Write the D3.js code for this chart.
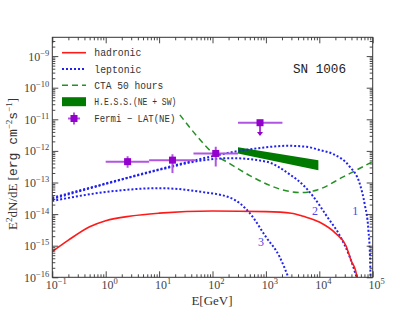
<!DOCTYPE html>
<html>
<head>
<meta charset="utf-8">
<script src="https://cdn.jsdelivr.net/npm/d3@7"></script>
<style>
  body { margin: 0; background: #fff; }
  svg { display: block; }
</style>
</head>
<body>
<svg id="chart"></svg>
<script>
// ---- data (E in GeV, E^2 dN/dE in erg cm^-2 s^-1) ----
const hadronicE = [0.1, 0.2, 0.5, 1, 3, 10, 100, 1000, 3000, 5000, 1e4, 2e4, 3.16e4, 4e4, 4.7e4, 5.1e4];
const hadronicF = [6.5e-16, 1.5e-15, 4.0e-15, 6.2e-15, 8.7e-15, 1.07e-14, 1.26e-14, 1.2e-14, 1.07e-14, 8.5e-15, 5.6e-15, 2.5e-15, 1.0e-15, 3.2e-16, 1.8e-16, 1e-16];

const lep1E = [0.1, 1, 10, 100, 316, 1000, 2500, 5800, 1e4, 1.8e4, 3.7e4, 5.7e4, 7.1e4, 8.3e4, 8.9e4, 9.1e4];
const lep1F = [3.3e-14, 9.3e-14, 2.6e-13, 6.8e-13, 1.0e-12, 1.3e-12, 1.45e-12, 1.35e-12, 1.07e-12, 8e-13, 3.2e-13, 9.3e-14, 2e-14, 3.2e-15, 4.5e-16, 1e-16];

const lep2E = [0.1, 1, 10, 68, 214, 1000, 2800, 5000, 7800, 1.4e4, 2.5e4, 3.7e4, 5e4];
const lep2F = [3.0e-14, 9.0e-14, 2.5e-13, 5.1e-13, 5.9e-13, 4.6e-13, 1.8e-13, 8.3e-14, 3.5e-14, 8.3e-15, 1.9e-15, 4.5e-16, 1e-16];

const lep3E = [0.1, 1, 10, 60, 224, 500, 1000, 1800, 2630];
const lep3F = [2.6e-14, 5.0e-14, 6.6e-14, 5.1e-14, 3.2e-14, 1.07e-14, 1.9e-15, 4.5e-16, 1e-16];

const ctaE = [24.5, 51, 102, 214, 500, 2090, 4400, 9100, 2.8e4, 1e5];
const ctaF = [1.38e-11, 2.95e-12, 8.5e-13, 3.9e-13, 1.66e-13, 5.8e-14, 4.8e-14, 5.8e-14, 1.5e-13, 4.6e-13];

const hessE = [300, 9600];
const hessHi = [1.3e-12, 5.1e-13];
const hessLo = [8.3e-13, 2.45e-13];

const fermiE = [2.57, 17.8, 115];
const fermiF = [4.57e-13, 5.1e-13, 8.3e-13];
const fermiElo = [1.0, 6.5, 44];
const fermiEhi = [6.5, 47, 300];
const fermiFlo = [2.95e-13, 2.0e-13, 3.2e-13];
const fermiFhi = [6.8e-13, 7.9e-13, 1.35e-12];

const ulE = 776, ulF = 7.8e-12, ulElo = 300, ulEhi = 2040, ulArrowTo = 3.2e-12;

const xDecades = [-1, 0, 1, 2, 3, 4, 5];
const yDecades = [-16, -15, -14, -13, -12, -11, -10, -9];

const curveLabels = [
  { text: "1", E: 4.7e4, F: 1.3e-14 },
  { text: "2", E: 8300, F: 1.3e-14 },
  { text: "3", E: 810, F: 1.35e-15 }
];

const legendItems = ["hadronic", "leptonic", "CTA 50 hours", "H.E.S.S.(NE + SW)", "Fermi − LAT(NE)"];

// ---- layout ----
const W = 415, H = 312;
const margin = { top: 37.3, right: 42.3, bottom: 34.7, left: 52.3 };
const iw = W - margin.left - margin.right;
const ih = H - margin.top - margin.bottom;

const svg = d3.select("#chart").attr("width", W).attr("height", H);
const g = svg.append("g").attr("transform", `translate(${margin.left},${margin.top})`);

const x = d3.scaleLog().domain([0.1, 1e5]).range([0, iw]);
const y = d3.scaleLog().domain([1e-16, Math.pow(10, -8.405)]).range([ih, 0]);

const plot = g.append("g");
plot.append("clipPath").attr("id", "clip")
  .append("rect").attr("width", iw).attr("height", ih);
const marks = plot.append("g").attr("clip-path", "url(#clip)");

const zip = (a, b) => a.map((v, i) => [v, b[i]]);
const line = d3.line().x(d => x(d[0])).y(d => y(d[1])).curve(d3.curveMonotoneX);

// CTA
marks.append("path").datum(zip(ctaE, ctaF))
  .attr("d", line).attr("fill", "none")
  .attr("stroke", "#259025").attr("stroke-width", 1.5).attr("stroke-dasharray", "6,4");

// HESS band
const hessArea = d3.area().x(d => x(d[0])).y0(d => y(d[1])).y1(d => y(d[2]));
marks.append("path").datum(hessE.map((e, i) => [e, hessLo[i], hessHi[i]]))
  .attr("d", hessArea).attr("fill", "#007a00");

// leptonic
[[lep1E, lep1F], [lep2E, lep2F], [lep3E, lep3F]].forEach(([e, f]) => {
  marks.append("path").datum(zip(e, f))
    .attr("d", line).attr("fill", "none")
    .attr("stroke", "#2222ee").attr("stroke-width", 2).attr("stroke-dasharray", "2,2");
});

// hadronic
marks.append("path").datum(zip(hadronicE, hadronicF))
  .attr("d", line).attr("fill", "none")
  .attr("stroke", "#ff1a1a").attr("stroke-width", 1.6);

// Fermi points
const barCol = "#b055e0", ptCol = "#9400cc";
fermiE.forEach((e, i) => {
  marks.append("line")
    .attr("x1", x(fermiElo[i])).attr("x2", x(fermiEhi[i]))
    .attr("y1", y(fermiF[i])).attr("y2", y(fermiF[i]))
    .attr("stroke", barCol).attr("stroke-width", 2);
  marks.append("line")
    .attr("x1", x(e)).attr("x2", x(e))
    .attr("y1", y(fermiFlo[i])).attr("y2", y(fermiFhi[i]))
    .attr("stroke", barCol).attr("stroke-width", 2);
  marks.append("rect")
    .attr("x", x(e) - 3.5).attr("y", y(fermiF[i]) - 3.5)
    .attr("width", 7).attr("height", 7).attr("fill", ptCol);
});
// upper limit
marks.append("line")
  .attr("x1", x(ulElo)).attr("x2", x(ulEhi))
  .attr("y1", y(ulF)).attr("y2", y(ulF))
  .attr("stroke", barCol).attr("stroke-width", 2);
marks.append("line")
  .attr("x1", x(ulE)).attr("x2", x(ulE))
  .attr("y1", y(ulF)).attr("y2", y(ulArrowTo) - 2)
  .attr("stroke", ptCol).attr("stroke-width", 1.5);
marks.append("path")
  .attr("d", `M${x(ulE) - 3},${y(ulArrowTo) - 3}L${x(ulE) + 3},${y(ulArrowTo) - 3}L${x(ulE)},${y(ulArrowTo) + 1}Z`)
  .attr("fill", ptCol);
marks.append("rect")
  .attr("x", x(ulE) - 3.5).attr("y", y(ulF) - 3.5)
  .attr("width", 7).attr("height", 7).attr("fill", ptCol);

// curve numbers
g.selectAll(".clabel").data(curveLabels).join("text")
  .attr("x", d => x(d.E)).attr("y", d => y(d.F)).attr("dy", "0.35em")
  .attr("text-anchor", "middle")
  .attr("font-family", "Liberation Serif, serif").attr("font-size", 12)
  .attr("fill", "#4a4ae0").text(d => d.text);

// ---- axes (ticks inward on all four sides) ----
const xMajor = xDecades.map(d => Math.pow(10, d));
const xMinor = [];
xDecades.slice(0, -1).forEach(d => { for (let k = 2; k <= 9; k++) xMinor.push(k * Math.pow(10, d)); });
const yMajor = yDecades.map(d => Math.pow(10, d));
const yMinor = [];
yDecades.forEach(d => { for (let k = 2; k <= 9; k++) { const v = k * Math.pow(10, d); if (v <= y.domain()[1]) yMinor.push(v); } });

function addAxis(axisFn, scale, vals, size, tr) {
  const a = g.append("g").attr("transform", tr)
    .call(axisFn(scale).tickValues(vals).tickSize(-size).tickFormat(""));
  a.select(".domain").remove();
  a.selectAll("line").attr("stroke", "#333").attr("stroke-width", 0.9);
}
addAxis(d3.axisBottom, x, xMajor, 6, `translate(0,${ih})`);
addAxis(d3.axisBottom, x, xMinor, 3, `translate(0,${ih})`);
addAxis(d3.axisTop, x, xMajor, 6, "translate(0,0)");
addAxis(d3.axisTop, x, xMinor, 3, "translate(0,0)");
addAxis(d3.axisLeft, y, yMajor, 6, "translate(0,0)");
addAxis(d3.axisLeft, y, yMinor, 3, "translate(0,0)");
addAxis(d3.axisRight, y, yMajor, 6, `translate(${iw},0)`);
addAxis(d3.axisRight, y, yMinor, 3, `translate(${iw},0)`);

g.append("rect").attr("width", iw).attr("height", ih)
  .attr("fill", "none").attr("stroke", "#333").attr("stroke-width", 1);

const serif = "Liberation Serif, DejaVu Serif, serif";
const expText = (sel, d) => {
  sel.append("tspan").text("10");
  sel.append("tspan").attr("font-size", 8.5).attr("dy", -5)
    .text(d < 0 ? "−" + Math.abs(d) : String(d));
};
xDecades.forEach(d => {
  const t = g.append("text")
    .attr("x", x(Math.pow(10, d)) + 4).attr("y", ih + 11.5)
    .attr("text-anchor", "middle")
    .attr("font-family", serif).attr("font-size", 12).attr("fill", "#444");
  expText(t, d);
});
yDecades.forEach(d => {
  const t = g.append("text")
    .attr("x", -3).attr("y", y(Math.pow(10, d)) + 4.5)
    .attr("text-anchor", "end")
    .attr("font-family", serif).attr("font-size", 12).attr("fill", "#444");
  expText(t, d);
});

// axis titles
svg.append("text")
  .attr("x", 212).attr("y", 305).attr("text-anchor", "middle")
  .attr("font-family", serif).attr("font-size", 13).attr("fill", "#333")
  .text("E[GeV]");

const yl = svg.append("text")
  .attr("transform", "translate(17,164) rotate(-90)")
  .attr("text-anchor", "middle")
  .attr("font-family", serif).attr("font-size", 13).attr("fill", "#333");
yl.append("tspan").text("E");
yl.append("tspan").attr("font-size", 9).attr("dy", -5).text("2");
yl.append("tspan").attr("dy", 5).text("dN/dE [");
yl.append("tspan").attr("font-family", "Liberation Mono, monospace").text("erg cm");
yl.append("tspan").attr("font-size", 9).attr("dy", -5).text("−2");
yl.append("tspan").attr("dy", 5).attr("font-family", "Liberation Mono, monospace").text("s");
yl.append("tspan").attr("font-size", 9).attr("dy", -5).text("−1");
yl.append("tspan").attr("dy", 5).text("]");

// SN 1006
svg.append("text")
  .attr("x", 293).attr("y", 73)
  .attr("font-family", "Liberation Mono, DejaVu Sans Mono, monospace")
  .attr("font-size", 13).attr("fill", "#222")
  .attr("textLength", 53).attr("lengthAdjust", "spacingAndGlyphs")
  .text("SN 1006");

// ---- legend ----
const legX0 = 62, legX1 = 86, legTextX = 94.3;
const legY = [52.7, 69, 85.3, 101.7, 118.5];
const legWidths = [47, 47, 69, 82, 81];
const leg = svg.append("g");
leg.append("line").attr("x1", legX0).attr("x2", legX1).attr("y1", legY[0]).attr("y2", legY[0])
  .attr("stroke", "#ff1a1a").attr("stroke-width", 1.6);
leg.append("line").attr("x1", legX0).attr("x2", legX1).attr("y1", legY[1]).attr("y2", legY[1])
  .attr("stroke", "#2222ee").attr("stroke-width", 2).attr("stroke-dasharray", "2,2");
leg.append("line").attr("x1", legX0).attr("x2", legX1).attr("y1", legY[2]).attr("y2", legY[2])
  .attr("stroke", "#259025").attr("stroke-width", 1.5).attr("stroke-dasharray", "6,4");
leg.append("rect").attr("x", legX0).attr("y", legY[3] - 4.5).attr("width", legX1 - legX0).attr("height", 9)
  .attr("fill", "#007a00");
leg.append("line").attr("x1", 68).attr("x2", 80).attr("y1", legY[4]).attr("y2", legY[4])
  .attr("stroke", barCol).attr("stroke-width", 2);
leg.append("line").attr("x1", 74).attr("x2", 74).attr("y1", legY[4] - 6).attr("y2", legY[4] + 6)
  .attr("stroke", barCol).attr("stroke-width", 2);
leg.append("rect").attr("x", 70.5).attr("y", legY[4] - 3.5).attr("width", 7).attr("height", 7)
  .attr("fill", ptCol);

leg.selectAll(".lt").data(legendItems).join("text")
  .attr("x", legTextX).attr("y", (d, i) => legY[i]).attr("dy", "0.35em")
  .attr("font-family", "Liberation Mono, DejaVu Sans Mono, monospace")
  .attr("font-size", 10).attr("fill", "#333")
  .attr("textLength", (d, i) => legWidths[i]).attr("lengthAdjust", "spacingAndGlyphs")
  .text(d => d);
</script>
</body>
</html>
